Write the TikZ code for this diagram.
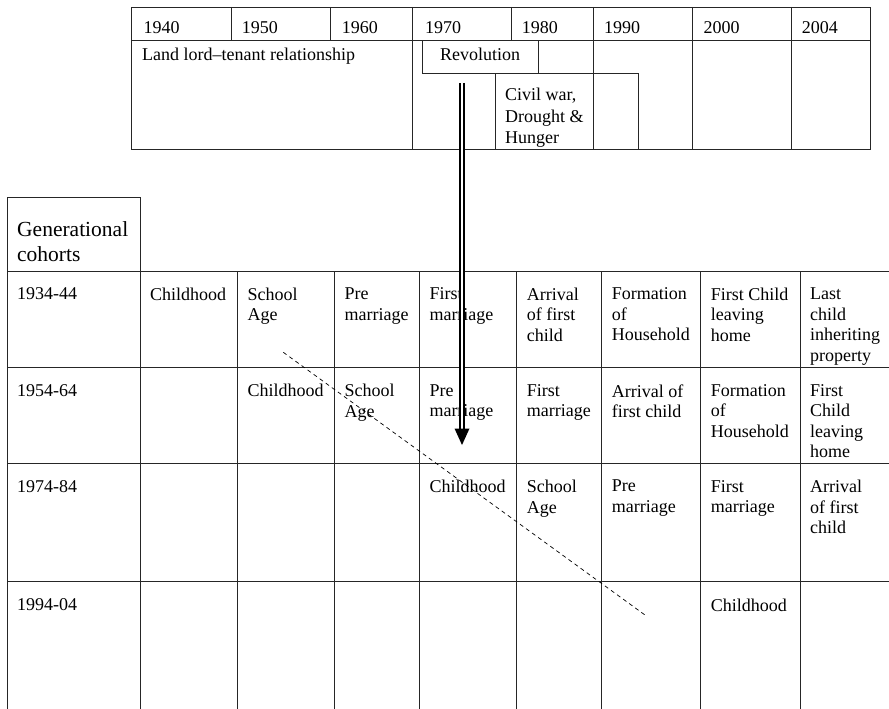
\documentclass[tikz,border=0pt]{standalone}
\usepackage{fontspec}
\setmainfont{Liberation Serif}
\usepackage{tikz}

\tikzset{
  rule/.style={line width=0.8pt, black!85},
  cell/.style={anchor=north west, align=left, inner sep=0pt, font=\fontsize{18}{20.5}\selectfont},
  bigcell/.style={cell, font=\fontsize{21.5}{24.7}\selectfont},
  lifeline/.style={line width=0.7pt, dash pattern=on 4pt off 3.5pt},
}

\begin{document}
\begin{tikzpicture}[x=1pt,y=-1pt]
            \useasboundingbox (0,0) rectangle (889,709);
            % decades and events
            \draw [rule] (131.7,7) rectangle (870.7,149);
            \draw [rule] (131.7,40.7) -- (870.7,40.7);
            \foreach \x in {231.7,330,511.7} \draw [rule] (\x,7) -- (\x,40.7);
            \foreach \x in {412.3,593.3,692.7,791.7} \draw [rule] (\x,7) -- (\x,149);
            \draw [rule] (422.3,40.7) rectangle (538.3,73.3);
            \draw [rule] (495,149) rectangle (638.3,73.3);
            \node [cell] (y1940) at (143.3,21.1) {1940};
            \node [cell] (y1950) at (241.7,21.1) {1950};
            \node [cell] (y1960) at (341.7,21.1) {1960};
            \node [cell] (y1970) at (425,21.1) {1970};
            \node [cell] (y1980) at (521.7,21.1) {1980};
            \node [cell] (y1990) at (604,21.1) {1990};
            \node [cell] (y2000) at (703.3,21.1) {2000};
            \node [cell] (y2004) at (801.7,21.1) {2004};
            \node [cell] (landlord) at (142,47.7) {Land lord--tenant relationship};
            \node [cell] (revolution) at (440,47.7) {Revolution};
            \node [cell, font=\fontsize{18}{21.7}\selectfont] (civilwar) at (505,87.7) {Civil war,\\Drought \&\\Hunger};
            % cohorts grid
            \draw [rule] (7,709) -- (7,197.3) -- (140,197.3) -- (140,709);
            \foreach \y in {271,367.5,463.3,581.7} \draw [rule] (7,\y) -- (889,\y);
            \foreach \x in {237.5,334.5,419.3,516.7,601.7,700.7,800} \draw [rule] (\x,271) -- (\x,709);
            \node [bigcell] (cohorts) at (17,221.3) {Generational\\cohorts};
            % 1934-44
            \node [cell] (a0) at (17,287.7) {1934-44};
            \node [cell] (a1) at (150,287.7) {Childhood};
            \node [cell] (a2) at (247.5,287.7) {School\\Age};
            \node [cell] (a3) at (344.5,287.7) {Pre\\marriage};
            \node [cell] (a4) at (429.3,287.7) {First\\marriage};
            \node [cell] (a5) at (526.7,287.7) {Arrival\\of first\\child};
            \node [cell] (a6) at (611.7,287.7) {Formation\\of\\Household};
            \node [cell] (a7) at (710.7,287.7) {First Child\\leaving\\home};
            \node [cell] (a8) at (810,287.7) {Last\\child\\inheriting\\property};
            % 1954-64
            \node [cell] (b0) at (17,384.2) {1954-64};
            \node [cell] (b2) at (247.5,384.2) {Childhood};
            \node [cell] (b3) at (344.5,384.2) {School\\Age};
            \node [cell] (b4) at (429.3,384.2) {Pre\\marriage};
            \node [cell] (b5) at (526.7,384.2) {First\\marriage};
            \node [cell] (b6) at (611.7,384.2) {Arrival of\\first child};
            \node [cell] (b7) at (710.7,384.2) {Formation\\of\\Household};
            \node [cell] (b8) at (810,384.2) {First\\Child\\leaving\\home};
            % 1974-84
            \node [cell] (c0) at (17,480) {1974-84};
            \node [cell] (c4) at (429.3,480) {Childhood};
            \node [cell] (c5) at (526.7,480) {School\\Age};
            \node [cell] (c6) at (611.7,480) {Pre\\marriage};
            \node [cell] (c7) at (710.7,480) {First\\marriage};
            \node [cell] (c8) at (810,480) {Arrival\\of first\\child};
            % 1994-04
            \node [cell] (d0) at (17,598.4) {1994-04};
            \node [cell] (d7) at (710.7,598.4) {Childhood};
            % life course line
            \coordinate (dashstart) at (283.3,352.3);
            \coordinate (dashend) at (645,615);
            \draw [lifeline] (dashstart) -- (dashend);
            % revolution arrow
            \coordinate (shaft) at (462,83);
            \coordinate (tipbase) at (462,428.5);
            \coordinate (tip) at (462,445);
            \draw [line width=1.6pt, double distance=2.2pt] (shaft) -- (tipbase);
            \fill [black] (tip) -- ([xshift=-7.5pt]tipbase) -- ([xshift=7.5pt]tipbase) -- cycle;
\end{tikzpicture}
\end{document}
